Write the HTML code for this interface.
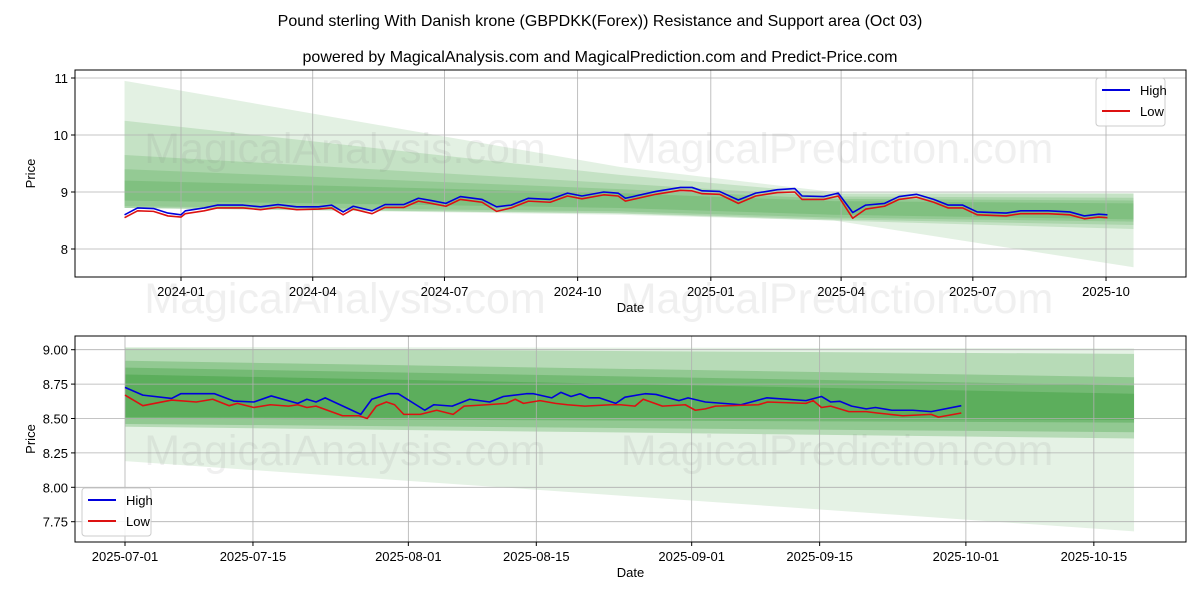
<!DOCTYPE html>
<html><head><meta charset="utf-8"><style>
body{margin:0;background:#fff;}
svg text{font-family:"Liberation Sans","DejaVu Sans",sans-serif;}
</style></head><body>
<svg id="c" width="1200" height="600" xmlns="http://www.w3.org/2000/svg"></svg>
<script>
// ---- top chart data (days from 2024-01-01) ----
const topHighDays=[-39,-30,-19,-9,0,3,16,25,43,55,67,80,95,104,112,119,132,141,154,164,173,183,193,208,218,228,240,255,267,277,292,302,307,328,345,353,360,372,385,397,412,424,429,444,454,464,473,486,496,508,520,530,540,550,570,580,599,614,624,634,640];
const topHighVals=[8.60,8.72,8.71,8.63,8.60,8.67,8.72,8.77,8.77,8.74,8.78,8.74,8.74,8.77,8.65,8.75,8.67,8.78,8.78,8.89,8.85,8.80,8.92,8.87,8.74,8.77,8.89,8.87,8.98,8.93,9.00,8.98,8.89,9.01,9.08,9.08,9.02,9.01,8.86,8.98,9.04,9.06,8.93,8.92,8.98,8.64,8.77,8.80,8.92,8.96,8.87,8.77,8.77,8.65,8.63,8.67,8.67,8.65,8.58,8.61,8.60];
const topLowVals=[8.55,8.67,8.66,8.58,8.56,8.62,8.67,8.72,8.72,8.69,8.73,8.69,8.70,8.72,8.60,8.70,8.62,8.73,8.73,8.84,8.80,8.75,8.87,8.82,8.66,8.72,8.84,8.82,8.93,8.88,8.95,8.93,8.84,8.96,9.03,9.02,8.97,8.96,8.80,8.93,8.99,9.00,8.87,8.87,8.93,8.54,8.70,8.75,8.87,8.91,8.82,8.72,8.72,8.60,8.58,8.62,8.62,8.60,8.53,8.56,8.55];
const topBandDays=[-39,303,451,658];
const topBandTop=[[10.95,9.44,9.0,8.98],[10.25,9.3,8.97,8.97],[9.65,9.15,8.92,8.9],[9.4,9.05,8.88,8.85],[9.2,8.98,8.84,8.8]];
const topBandBot=[[8.72,8.60,8.5,7.68],[8.72,8.62,8.5,8.35],[8.72,8.63,8.52,8.42],[8.75,8.66,8.55,8.48],[8.85,8.72,8.6,8.52]];
const topYTicks=[8,9,10,11];
const topXTickDays=[0,91,182,274,366,456,547,639];
const topXTickLabels=["2024-01","2024-04","2024-07","2024-10","2025-01","2025-04","2025-07","2025-10"];
// ---- bottom chart data (days from 2025-07-01) ----
const botHighDays=[0,1.95,5.1,6.1,9.8,11.9,14.1,16,18.9,19.9,20.9,21.9,25.8,27,28.9,29.9,32.8,33.8,35.8,37.7,39.9,41.4,43.9,44.7,46.7,47.7,48.8,49.8,50.8,51.9,53.7,54.7,56.9,58.1,60.6,61.6,63.5,67.4,70.2,74.5,76.2,77.2,78.2,79.5,81.1,82.1,83.9,86.2,88.2,91.5];
const botHighVals=[8.726,8.67,8.646,8.68,8.68,8.627,8.62,8.664,8.61,8.64,8.62,8.65,8.53,8.64,8.68,8.68,8.56,8.60,8.59,8.64,8.62,8.66,8.68,8.68,8.65,8.69,8.66,8.68,8.65,8.65,8.61,8.655,8.68,8.675,8.63,8.65,8.62,8.60,8.65,8.63,8.66,8.62,8.625,8.59,8.57,8.58,8.56,8.56,8.55,8.593];
const botLowDays=[0,1.95,5.1,7.8,9.6,11.4,12.3,14.1,15.9,17.9,18.9,19.9,20.9,23.8,25.6,26.5,27.5,28.6,29.5,30.5,32.3,34.1,35.9,37.1,39.6,41.7,42.7,43.6,45.4,47.1,48.4,50.3,53.2,54.2,55.8,56.7,58.8,61.3,62.4,63.5,64.6,69.3,70.3,74.5,75.3,76.2,77.2,79.2,81.1,82.3,85.1,88.2,89.0,91.5];
const botLowVals=[8.67,8.593,8.634,8.62,8.64,8.593,8.61,8.58,8.60,8.59,8.60,8.58,8.59,8.52,8.52,8.50,8.59,8.62,8.60,8.53,8.53,8.56,8.53,8.59,8.60,8.61,8.64,8.61,8.63,8.61,8.60,8.59,8.60,8.60,8.59,8.64,8.59,8.60,8.56,8.57,8.59,8.60,8.62,8.61,8.63,8.58,8.59,8.55,8.55,8.54,8.52,8.53,8.51,8.54];
const botBandDays=[0,110.4];
const botBandTop=[[9.02,9.01],[9.01,8.97],[8.92,8.80],[8.87,8.74],[8.82,8.68]];
const botBandBot=[[8.19,7.68],[8.44,8.355],[8.46,8.40],[8.50,8.47],[8.51,8.49]];
const botYTicks=[7.75,8.00,8.25,8.50,8.75,9.00];
const botXTickDays=[0,14,31,45,62,76,92,106];
const botXTickLabels=["2025-07-01","2025-07-15","2025-08-01","2025-08-15","2025-09-01","2025-09-15","2025-10-01","2025-10-15"];

const NS="http://www.w3.org/2000/svg";
const svg=document.getElementById('c');
function mk(tag,attrs,parent,txt){const e=document.createElementNS(NS,tag);for(const k in attrs)e.setAttribute(k,attrs[k]);if(txt!==undefined)e.textContent=txt;(parent||svg).appendChild(e);return e;}

function title(t,y,size,nm){const e=mk('text',{x:600,y:y,'text-anchor':'middle','font-size':size,fill:'#000'},svg,t);

}
title("Pound sterling With Danish krone (GBPDKK(Forex)) Resistance and Support area (Oct 03)",26,16,'chart-title');
title("powered by MagicalAnalysis.com and MagicalPrediction.com and Predict-Price.com",62,16,'chart-subtitle');

function panel(o){
  const g=mk('g',{});
  
  
  const X=d=>o.x0+(d-o.d0)*o.pxd, Y=v=>o.y0-(v-o.v0)*o.pxv;
  for(let i=0;i<o.btop.length;i++){
    const up=o.bd.map((d,j)=>X(d)+','+Y(o.btop[i][j]));
    const dn=o.bd.map((d,j)=>X(d)+','+Y(o.bbot[i][j])).reverse();
    const p=mk('polygon',{points:up.concat(dn).join(' '),fill:'#008000','fill-opacity':o.op[i]},g);
    
    
  }
  o.yt.forEach(v=>{const l=mk('line',{x1:o.L,x2:o.R,y1:Y(v),y2:Y(v),stroke:'#b0b0b0','stroke-width':0.8},g);
    
    mk('line',{x1:o.L-4,x2:o.L,y1:Y(v),y2:Y(v),stroke:'#000'},g);
    const t=mk('text',{x:o.L-7,y:Y(v)+5,'text-anchor':'end','font-size':13},g,o.yfmt(v));
    });
  o.xt.forEach((d,i)=>{const l=mk('line',{x1:X(d),x2:X(d),y1:o.T,y2:o.B,stroke:'#b0b0b0','stroke-width':0.8},g);
    
    mk('line',{x1:X(d),x2:X(d),y1:o.B,y2:o.B+4,stroke:'#000'},g);
    const t=mk('text',{x:X(d),y:o.B+19,'text-anchor':'middle','font-size':13},g,o.xl[i]);
    });
  o.wm.forEach(w=>{const t=mk('text',{x:w[0],y:w[1],'text-anchor':'middle','font-size':43,fill:'#808080','fill-opacity':0.12},svg,w[2]);
    });
  function line(days,vals,col,nm){const pts=days.map((d,i)=>X(d)+','+Y(vals[i])).join(' ');
    const l=mk('polyline',{points:pts,fill:'none',stroke:col,'stroke-width':1.6,'stroke-linejoin':'round'},g);
    }
  line(o.hd,o.hv,'#0000dd','high-line');
  line(o.ld,o.lv,'#dd1111','low-line');
  const fr=mk('rect',{x:o.L,y:o.T,width:o.R-o.L,height:o.B-o.T,fill:'none',stroke:'#000','stroke-width':1},g);
  
  const xt=mk('text',{x:(o.L+o.R)/2,y:o.B+35,'text-anchor':'middle','font-size':13},g,'Date');
  
  const yt=mk('text',{x:0,y:0,'text-anchor':'middle','font-size':13,transform:`translate(${o.L-40},${(o.T+o.B)/2}) rotate(-90)`},g,'Price');
  
  const lg=mk('g',{},g);
  
  mk('rect',{x:o.lx,y:o.ly,width:69,height:48,rx:3,fill:'#fff','fill-opacity':0.85,stroke:'#ccc'},lg);
  [['High','#0000dd'],['Low','#dd1111']].forEach((e,i)=>{
    const it=mk('g',{},lg);
    
    
    mk('line',{x1:o.lx+6,x2:o.lx+34,y1:o.ly+12+i*21,y2:o.ly+12+i*21,stroke:e[1],'stroke-width':2},it);
    mk('text',{x:o.lx+44,y:o.ly+17+i*21,'font-size':13},it,e[0]);
  });
}
panel({name:'top-panel',L:75,R:1186,T:70,B:277,x0:181,d0:0,pxd:1.4476,y0:249,v0:8,pxv:57,op:[0.11,0.13,0.13,0.13,0.13],
  bd:topBandDays,btop:topBandTop,bbot:topBandBot,
  yt:topYTicks,yfmt:v=>String(v),xt:topXTickDays,xl:topXTickLabels,
  hd:topHighDays,hv:topHighVals,ld:topHighDays,lv:topLowVals,lx:1096,ly:78,
  wm:[[345,163,'MagicalAnalysis.com'],[837,163,'MagicalPrediction.com'],[345,313,'MagicalAnalysis.com'],[837,313,'MagicalPrediction.com']]});
panel({name:'bottom-panel',L:75,R:1186,T:336,B:542,x0:125,d0:0,pxd:9.14,y0:418.5,v0:8.5,pxv:137.6,op:[0.10,0.2,0.2,0.2,0.2],
  bd:botBandDays,btop:botBandTop,bbot:botBandBot,
  yt:botYTicks,yfmt:v=>v.toFixed(2),xt:botXTickDays,xl:botXTickLabels,
  hd:botHighDays,hv:botHighVals,ld:botLowDays,lv:botLowVals,lx:82,ly:488,
  wm:[[345,465,'MagicalAnalysis.com'],[837,465,'MagicalPrediction.com']]});
</script>
</body></html>
